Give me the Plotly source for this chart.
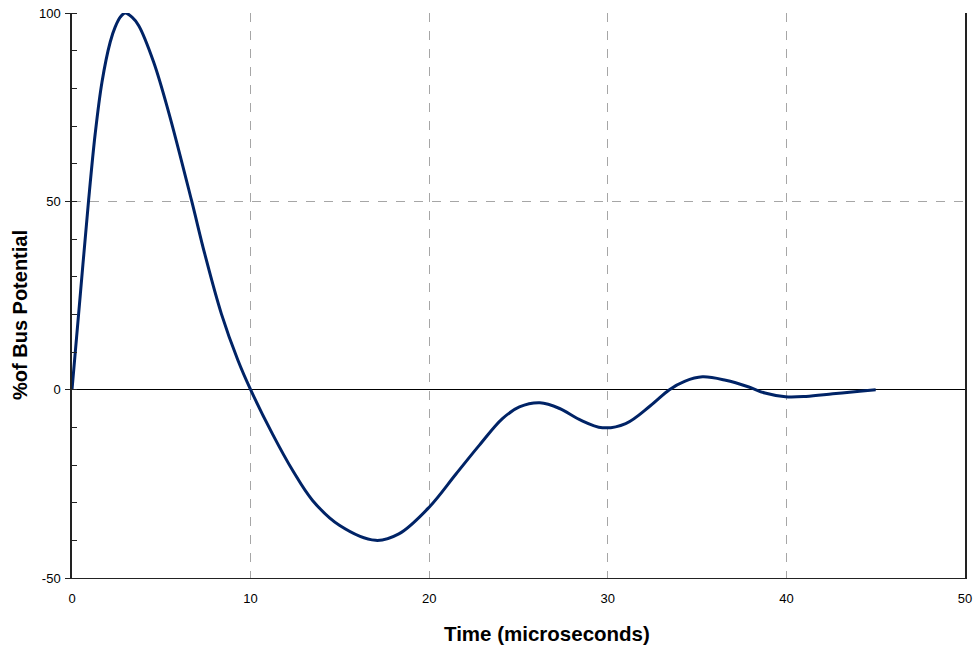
import plotly.graph_objects as go

# Time (microseconds)
time_us = [0, 0.47, 0.93, 1.30, 1.68, 2.14, 2.42, 2.70, 2.98, 3.36, 3.73, 4.57, 5.41, 6.69, 7.43,
           8.36, 9.29, 10.0, 11.23, 12.35, 13.47, 14.97, 17.0, 18.3, 20.0, 21.5, 22.8, 24.1,
           25.05, 26.2, 27.3, 28.4, 29.7, 31.0, 32.4, 33.45, 34.3, 35.3, 36.6, 37.9, 38.8,
           39.95, 41.1, 42.6, 44.1, 45.0]
# % of bus potential
potential = [0, 25.5, 50.3, 68.0, 81.7, 92.3, 96.3, 98.9, 100, 98.9, 96.7, 87.0, 73.7, 50.3, 36.1,
             20.2, 7.8, 0, -11.8, -21.4, -29.4, -36.0, -40.0, -38.3, -31.2, -22.4, -14.8, -7.7,
             -4.6, -3.5, -5.0, -7.9, -10.1, -9.0, -4.2, 0, 2.2, 3.4, 2.5, 0.7, -0.9,
             -1.9, -1.8, -1.1, -0.4, 0]

x_ticks = [0, 10, 20, 30, 40, 50]
y_ticks = [-50, 0, 50, 100]

L, R, T, B = 72, 9, 13, 72
W, H = 974, 650

fig = go.Figure()
fig.add_trace(go.Scatter(
    x=time_us, y=potential, mode="lines",
    line=dict(color="#002366", width=3, shape="spline", smoothing=1.0),
    hoverinfo="skip", showlegend=False,
))

font_main = "Liberation Sans, Arial, sans-serif"

pw = W - L - R
ph = H - T - B


def px_to_paper(px, py):
    return (px - L) / pw, (H - B - py) / ph


xt, yt = px_to_paper(547, 634)
xy, yy = px_to_paper(20, 315)

fig.update_layout(
    width=W, height=H,
    margin=dict(l=L, r=R, t=T, b=B, autoexpand=False),
    paper_bgcolor="white", plot_bgcolor="white",
    font=dict(family=font_main, size=13, color="black"),
    xaxis=dict(
        range=[0, 50], tickvals=x_ticks, ticktext=[str(v) for v in x_ticks],
        showgrid=True, gridcolor="#a6a6a6", griddash="dash", gridwidth=1,
        showline=True, linecolor="#222", linewidth=1,
        zeroline=False, ticks="", ticklabelstandoff=8, automargin=False,
        tickfont=dict(size=13, family=font_main),
    ),
    yaxis=dict(
        range=[-50, 100], tickvals=y_ticks, ticktext=[str(v) for v in y_ticks],
        showgrid=True, gridcolor="#a6a6a6", griddash="dash", gridwidth=1,
        showline=True, linecolor="#222", linewidth=1.5, mirror=True,
        zeroline=True, zerolinecolor="black", zerolinewidth=1,
        ticks="outside", ticklen=5, tickcolor="#222", automargin=False,
        ticklabelstandoff=2,
        minor=dict(dtick=10, tick0=0, ticks="inside", ticklen=5, tickcolor="#222", showgrid=False),
        tickfont=dict(size=13, family=font_main),
    ),
    annotations=[
        dict(text="<b>Time (microseconds)</b>", x=xt, y=yt, xref="paper", yref="paper",
             xanchor="center", yanchor="middle",
             showarrow=False, font=dict(size=20.5, family=font_main)),
        dict(text="<b>%of Bus Potential</b>", x=xy, y=yy, xref="paper", yref="paper",
             xanchor="center", yanchor="middle", showarrow=False,
             textangle=-90, font=dict(size=20, family=font_main)),
    ],
)

fig.write_html("out.html")
